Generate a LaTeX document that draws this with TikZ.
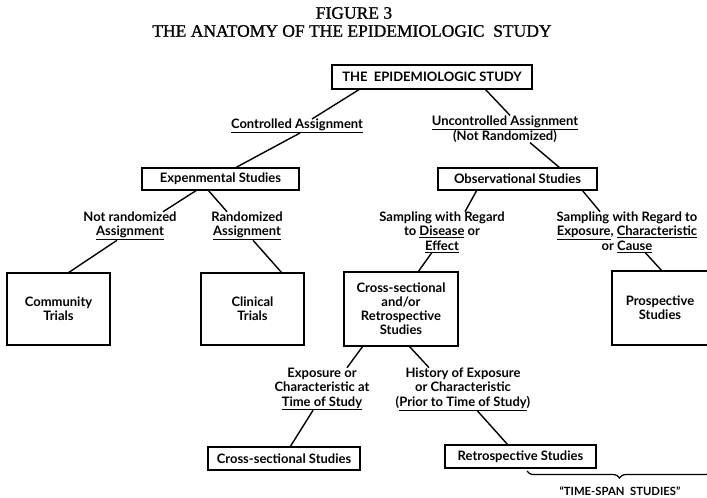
\documentclass[tikz,border=0pt]{standalone}
\usepackage{fontspec}
\setmainfont{Lato}
\newfontfamily\titlefont[FakeBold=1]{Liberation Serif}
\usetikzlibrary{decorations.pathreplacing}
\begin{document}
\begin{tikzpicture}[x=1pt,y=-1pt,
  every node/.style={inner sep=0pt,outer sep=0pt},
  txt/.style={font=\fontsize{13}{14.5}\selectfont\bfseries,align=center},
  sbox/.style={draw,line width=1.6pt,font=\fontsize{13}{14}\selectfont\bfseries,align=center},
  conn/.style={line width=1.4pt},
  ttl/.style={font=\titlefont\fontsize{17.5}{19}\selectfont}]
\useasboundingbox (0,0) rectangle (707,498);
\clip (0,0) rectangle (707,498);
% titles
\node[ttl] (t1) at (354,13) {FIGURE 3};
\node[ttl] (t2) at (352,31) {THE ANATOMY OF THE EPIDEMIOLOGIC\ \ STUDY};
% boxes
\node[sbox,minimum width=200pt,minimum height=24pt] (top) at (432,77) {THE\ \ EPIDEMIOLOGIC STUDY};
\node[sbox,minimum width=157pt,minimum height=22pt] (exp) at (220.5,179) {Expenmental Studies};
\node[sbox,minimum width=159pt,minimum height=22pt] (obs) at (517.5,179) {Observational Studies};
\node[sbox,minimum width=103pt,minimum height=72pt] (comm) at (58.5,309) {Community\\Trials};
\node[sbox,minimum width=103pt,minimum height=72pt] (clin) at (252.5,309) {Clinical\\Trials};
\node[sbox,minimum width=114pt,minimum height=74pt] (cret) at (401,309) {Cross-sectional\\and/or\\Retrospective\\Studies};
\node[sbox,minimum width=96pt,minimum height=74pt] (prosp) at (660,308) {Prospective\\Studies};
\node[sbox,minimum width=152pt,minimum height=23pt] (cs) at (284,458.5) {Cross-sectional Studies};
\node[sbox,minimum width=151pt,minimum height=23pt] (retro) at (520.5,456.5) {Retrospective Studies};
% labels
\node[txt] (ctrl) at (297,126) {\underline{Controlled Assignment}};
\node[txt] (unctrl) at (505,129) {\underline{Uncontrolled Assignment}\\(Not Randomized)};
\node[txt] (notrand) at (130,226) {Not randomized\\\underline{Assignment}};
\node[txt] (rand) at (247,226) {Randomized\\\underline{Assignment}};
\node[txt] (samp1) at (442,232) {Sampling with Regard\\to \underline{Disease} or\\\underline{Effect}};
\node[txt] (samp2) at (627,232) {Sampling with Regard to\\\underline{Exposure}, \underline{Characteristic}\\or \underline{Cause}};
\node[txt] (expo) at (322,389) {Exposure or\\Characteristic at\\\underline{Time of Study}};
\node[txt] (hist) at (463,389) {History of Exposure\\or Characteristic\\(\underline{Prior to Time of Study})};
\node[txt,font=\fontsize{11.3}{12}\selectfont\bfseries] (span) at (620,491) {``TIME-SPAN\ \ STUDIES''};
% connectors
\draw[conn] ([xshift=-72pt]top.south) -- ([xshift=15pt]ctrl.north);
\draw[conn] ([xshift=53pt]top.south) -- ([xshift=5pt]unctrl.north);
\draw[conn] ([xshift=3pt]ctrl.south) -- ([xshift=14.5pt]exp.north);
\draw[conn] ([xshift=25pt]unctrl.south) -- ([xshift=42.5pt]obs.north);
\draw[conn] ([xshift=-23.5pt]exp.south) -- ([xshift=33pt]notrand.north);
\draw[conn] ([xshift=-12.5pt]exp.south) -- ([xshift=-20pt]rand.north);
\draw[conn] ([xshift=-13pt]notrand.south) -- ([xshift=9.5pt]comm.north);
\draw[conn] ([xshift=6pt]rand.south) -- ([xshift=29.5pt]clin.north);
\draw[conn] ([xshift=-40.5pt]obs.south) -- ([xshift=23pt]samp1.north);
\draw[conn] ([xshift=64.5pt]obs.south) -- ([xshift=-27pt]samp2.north);
\draw[conn] ([xshift=-10pt]samp1.south) -- ([xshift=17pt]cret.north);
\draw[conn] ([xshift=18pt]samp2.south) -- ([xshift=2pt]prosp.north);
\draw[conn] ([xshift=-38pt]cret.south) -- ([xshift=25pt]expo.north);
\draw[conn] ([xshift=8pt]cret.south) -- ([xshift=-34pt]hist.north);
\draw[conn] ([xshift=-9pt]expo.south) -- ([xshift=6pt]cs.north);
\draw[conn] ([xshift=14pt]hist.south) -- ([xshift=-12.5pt]retro.north);
% brace
\coordinate (bl) at (527,471);
\coordinate (br) at (712,471);
\draw[line width=1.2pt,decorate,decoration={brace,mirror,amplitude=7pt}] (bl) -- (br);
\end{tikzpicture}
\end{document}
